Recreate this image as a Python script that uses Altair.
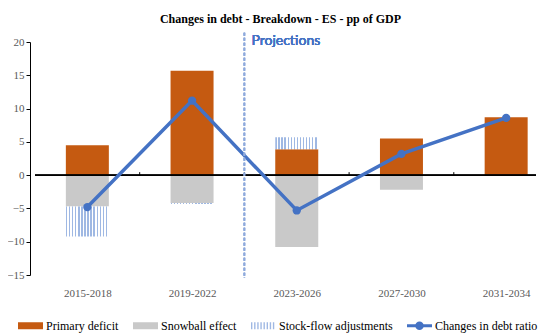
import altair as alt
import pandas as pd

# ---- data ----
periods = ["2015-2018", "2019-2022", "2023-2026", "2027-2030", "2031-2034"]
primary_deficit = [4.5, 15.7, 3.9, 5.5, 8.7]
snowball_effect = [-4.7, -4.2, -10.8, -2.2, 0.0]
stock_flow = [-4.5, -0.15, 1.8, 0.0, 0.0]
debt_change = [-4.8, 11.2, -5.3, 3.2, 8.6]

series_names = ["Primary deficit", "Snowball effect", "Stock-flow adjustments", "Changes in debt ratio"]
series_colors = ["#c55a11", "#c9c9c9", "#9fb8e3", "#4472c4"]
projection_start = 2  # index of first projected period

# ---- tables ----
rows = []
for i, p in enumerate(periods):
    for k, (name, vals) in enumerate(zip(series_names[:3], [primary_deficit, snowball_effect, stock_flow])):
        rows.append({"idx": i, "period": p, "series": name, "value": vals[i], "ord": k})
bars_df = pd.DataFrame(rows)
line_df = pd.DataFrame({"idx": list(range(len(periods))), "period": periods, "value": debt_change})
legend_df = pd.DataFrame({"series": series_names})
bounds_df = pd.DataFrame({"b": [i + 0.5 for i in range(len(periods) - 1)]})

# ---- layout ----
W, H = 511, 233
YMIN, YMAX = -15, 20
XMIN, XMAX = -0.5, 4.285   # right edge of the frame cuts the last category, as in the reference
tick_len = 3 * (YMAX - YMIN) / H  # 3px expressed in data units

SERIF = "Liberation Serif"
LABEL_COLOR = "#595959"


def stripes(n, color="#9fb8e3", frac=0.45):
    stops = [{"offset": 0, "color": "#ffffff"}]
    for j in range(n):
        a = j / n
        b = (j + frac) / n
        stops += [
            {"offset": a, "color": "#ffffff"},
            {"offset": a, "color": color},
            {"offset": b, "color": color},
            {"offset": b, "color": "#ffffff"},
        ]
    stops.append({"offset": 1, "color": "#ffffff"})
    return {"gradient": "linear", "x1": 0, "y1": 0, "x2": 1, "y2": 0, "stops": stops}


RECT_PATH = "M-1,-0.28H1V0.28H-1Z"
STRIPE_PATH = " ".join(
    f"M{-1 + j * 0.25:.3f},-0.28h0.11v0.56h-0.11Z" for j in range(8)
)
LINE_PATH = ("M-1,-0.12H1V0.12H-1Z "
             "M0.34,0A0.34,0.34 0 1 1 -0.34,0A0.34,0.34 0 1 1 0.34,0Z")

label_expr = "[" + ",".join(f"'{p}'" for p in periods) + "][datum.value]"

x_scale = alt.Scale(domain=[XMIN, XMAX], nice=False, zero=False)
y_scale = alt.Scale(domain=[YMIN, YMAX], nice=False)
color_scale = alt.Scale(domain=series_names, range=series_colors)
shape_scale = alt.Scale(domain=series_names, range=[RECT_PATH, RECT_PATH, STRIPE_PATH, LINE_PATH])

legend = alt.Legend(
    title=None,
    orient="none",
    direction="horizontal",
    columns=4,
    legendX=-12,
    legendY=271,
    labelFont=SERIF,
    labelFontSize=12,
    labelColor="#000000",
    labelOffset=3,
    columnPadding=14,
    symbolSize=625,
    symbolStrokeWidth=0,
    symbolOpacity=1,
)

bars = alt.Chart(bars_df).mark_bar(width=43).encode(
    x=alt.X(
        "idx:Q",
        scale=x_scale,
        axis=alt.Axis(
            orient="bottom",
            values=list(range(len(periods))),
            labelExpr=label_expr,
            domain=False,
            ticks=False,
            grid=False,
            title=None,
            labelFont=SERIF,
            labelFontSize=11,
            labelColor=LABEL_COLOR,
            labelPadding=12,
        ),
    ),
    y=alt.Y(
        "value:Q",
        scale=y_scale,
        stack="zero",
        axis=alt.Axis(
            values=list(range(YMIN, YMAX + 1, 5)),
            grid=False,
            title=None,
            domainColor="#000000",
            tickColor="#000000",
            tickSize=4,
            labelFont=SERIF,
            labelFontSize=11,
            labelColor=LABEL_COLOR,
            labelPadding=2,
            labelOverlap=False,
        ),
    ),
    color=alt.condition(
        "datum.series === 'Stock-flow adjustments'",
        alt.value(stripes(14)),
        alt.Color("series:N", scale=color_scale, legend=None),
    ),
    order=alt.Order("ord:Q"),
)

zero_line = alt.Chart(line_df).mark_rule(color="#000000", strokeWidth=1).encode(
    x=alt.datum(XMIN, axis=None),
    x2=alt.datum(XMAX),
    y=alt.datum(0, axis=None),
)

boundary_ticks = alt.Chart(bounds_df).mark_rule(color="#000000", strokeWidth=1).encode(
    x=alt.X("b:Q", scale=x_scale, axis=None),
    y=alt.datum(0, axis=None),
    y2=alt.datum(tick_len),
)

legend_layer = alt.Chart(legend_df).mark_point(filled=True, size=625, opacity=0).encode(
    x=alt.datum(0, scale=x_scale, axis=None),
    y=alt.datum(0, axis=None),
    color=alt.Color("series:N", scale=color_scale, legend=legend),
    shape=alt.Shape("series:N", scale=shape_scale, legend=legend),
)

line = alt.Chart(line_df).mark_line(
    color="#4472c4",
    strokeWidth=3.5,
    point=alt.OverlayMarkDef(filled=True, size=70, color="#4472c4"),
).encode(
    x=alt.X("idx:Q", scale=x_scale, axis=None),
    y=alt.Y("value:Q", scale=y_scale, axis=None),
)

proj_rule = alt.Chart(line_df).mark_rule(
    color="#8faadc", strokeDash=[3, 2], strokeWidth=1.5, clip=False
).encode(
    x=alt.datum(projection_start - 0.5, axis=None),
    y=alt.datum(YMAX + 1.4, axis=None),
    y2=alt.datum(YMIN - 0.45),
)

proj_text = alt.Chart(line_df).mark_text(
    text="Projections",
    align="left",
    baseline="middle",
    font="Lato",
    fontSize=14,
    color="#4472c4",
    dx=7,
    clip=False,
).encode(
    x=alt.datum(projection_start - 0.5, axis=None),
    y=alt.datum(YMAX + 0.2, axis=None),
)

chart = (
    alt.layer(bars, zero_line, boundary_ticks, legend_layer, line, proj_rule, proj_text)
    .resolve_axis(x="independent", y="independent")
    .resolve_legend(color="independent", shape="independent")
    .properties(
        width=W,
        height=H,
        autosize=alt.AutoSizeParams(type="none"),
        padding={"left": 22, "top": 34, "right": 0, "bottom": 58},
        title=alt.TitleParams(
            "Changes in debt - Breakdown - ES - pp of GDP",
            font=SERIF,
            fontSize=12,
            fontWeight="bold",
            color="#000000",
            anchor="middle",
            frame="group",
            baseline="bottom",
            offset=1,
            dx=-5,
            dy=7,
        ),
    )
    .configure_view(stroke=None)
    .configure_legend(labelFont=SERIF, labelFontSize=12)
    .configure_axis(labelFont=SERIF)
)

chart.save("out.html", embed_options={"renderer": "svg", "actions": False})
